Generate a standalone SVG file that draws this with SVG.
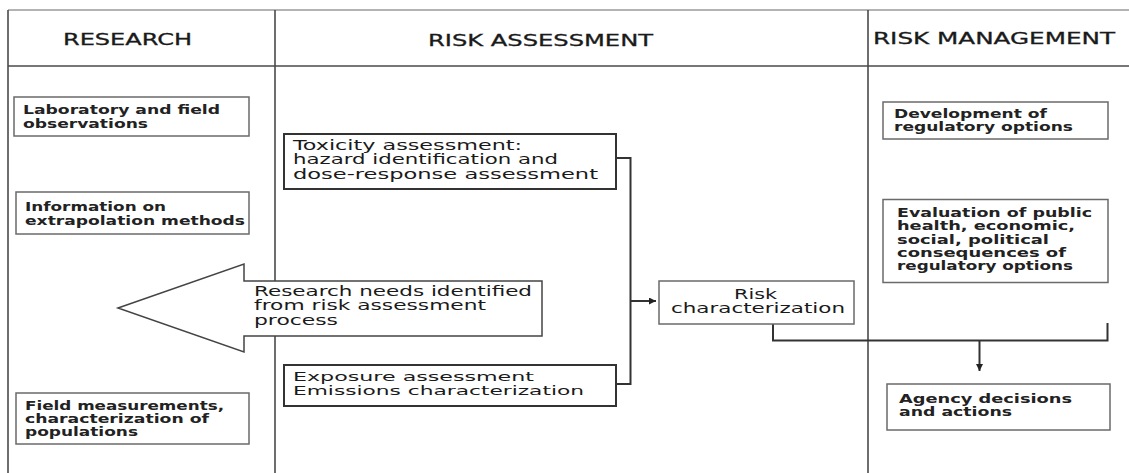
<svg xmlns="http://www.w3.org/2000/svg" width="1129" height="473" viewBox="0 0 1129 473">
<style>
.frame{stroke:#4a4a4a;stroke-width:1.6;fill:none}
.top{stroke:#9a9a9a;stroke-width:1.4;fill:none}
.box{fill:#fff;stroke:#6a6a6a;stroke-width:1.5}
.boxd{fill:#fff;stroke:#333;stroke-width:2}
.con{fill:none;stroke:#333;stroke-width:2}
.hd{font-family:"DejaVu Sans","Liberation Sans",sans-serif;font-size:16px;fill:#1a1a1a;stroke:#1a1a1a;stroke-width:0.3}
.tb{font-family:"DejaVu Sans","Liberation Sans",sans-serif;font-size:12px;font-weight:bold;fill:#222}
.tn{font-family:"DejaVu Sans","Liberation Sans",sans-serif;font-size:14px;fill:#1a1a1a}
.ts{font-family:"DejaVu Sans","Liberation Sans",sans-serif;font-size:13px;fill:#1a1a1a}
</style>
<defs>
<marker id="ah" viewBox="0 0 10 10" refX="10" refY="5" markerWidth="7" markerHeight="7" markerUnits="userSpaceOnUse" orient="auto">
<path d="M0,0 L10,5 L0,10 z" fill="#222"/>
</marker>
</defs>
<rect x="0" y="0" width="1129" height="473" fill="#fff"/>
<g id="frame">
<line class="top" x1="8" y1="10" x2="1129" y2="10"/>
<line class="frame" x1="8" y1="10" x2="8" y2="473"/>
<line class="frame" x1="8" y1="66" x2="1129" y2="66"/>
<line class="frame" x1="275" y1="10" x2="275" y2="473"/>
<line class="frame" x1="868" y1="10" x2="868" y2="473"/>
</g>
<g id="headers">
<text class="hd" x="63" y="45" textLength="129" lengthAdjust="spacingAndGlyphs">RESEARCH</text>
<text class="hd" x="428" y="46" textLength="225" lengthAdjust="spacingAndGlyphs">RISK ASSESSMENT</text>
<text class="hd" x="873" y="44" textLength="242" lengthAdjust="spacingAndGlyphs">RISK MANAGEMENT</text>
</g>
<g id="connectors">
<path class="con" d="M616,158 H630.5 V384 H616"/>
<line class="con" x1="630.5" y1="301" x2="656" y2="301" marker-end="url(#ah)"/>
<path class="con" d="M773,324 V340.5 H1107.5 V323"/>
<line class="con" x1="979.5" y1="340.5" x2="979.5" y2="371" marker-end="url(#ah)"/>
</g>
<g id="lab-field">
<rect class="box" x="14" y="97" width="235" height="39"/>
<text class="tb" x="23" y="113.5" textLength="197" lengthAdjust="spacingAndGlyphs">Laboratory and field</text>
<text class="tb" x="23" y="127.5" textLength="125" lengthAdjust="spacingAndGlyphs">observations</text>
</g>
<g id="extrapolation">
<rect class="box" x="16" y="192" width="233" height="42"/>
<text class="tb" x="25" y="211" textLength="141" lengthAdjust="spacingAndGlyphs">Information on</text>
<text class="tb" x="25" y="224.5" textLength="220" lengthAdjust="spacingAndGlyphs">extrapolation methods</text>
</g>
<g id="field-measurements">
<rect class="box" x="16" y="393" width="233" height="51"/>
<text class="tb" x="25" y="409.5" textLength="199" lengthAdjust="spacingAndGlyphs">Field measurements,</text>
<text class="tb" x="25" y="422.5" textLength="184" lengthAdjust="spacingAndGlyphs">characterization of</text>
<text class="tb" x="25" y="435.5" textLength="113" lengthAdjust="spacingAndGlyphs">populations</text>
</g>
<g id="toxicity">
<rect class="boxd" x="284" y="134" width="332" height="55"/>
<text class="tn" x="293" y="149.5" textLength="229" lengthAdjust="spacingAndGlyphs">Toxicity assessment:</text>
<text class="tn" x="293" y="164" textLength="265" lengthAdjust="spacingAndGlyphs">hazard identification and</text>
<text class="tn" x="293" y="178.5" textLength="305" lengthAdjust="spacingAndGlyphs">dose-response assessment</text>
</g>
<g id="research-needs">
<polygon points="118,308 244,264 244,281 542,281 542,336 244,336 244,352" fill="#fff" stroke="#444" stroke-width="1.5" stroke-linejoin="miter"/>
<text class="tn" x="254" y="296" textLength="278" lengthAdjust="spacingAndGlyphs">Research needs identified</text>
<text class="tn" x="254" y="310" textLength="232" lengthAdjust="spacingAndGlyphs">from risk assessment</text>
<text class="tn" x="254" y="324.5" textLength="84" lengthAdjust="spacingAndGlyphs">process</text>
</g>
<g id="risk-char">
<rect class="box" x="659" y="281" width="195" height="43"/>
<text class="tn" x="734" y="298.5" textLength="43" lengthAdjust="spacingAndGlyphs">Risk</text>
<text class="tn" x="671" y="312.5" textLength="174" lengthAdjust="spacingAndGlyphs">characterization</text>
</g>
<g id="exposure">
<rect class="boxd" x="284" y="365" width="332" height="41"/>
<text class="ts" x="293" y="381" textLength="241" lengthAdjust="spacingAndGlyphs">Exposure assessment</text>
<text class="ts" x="293" y="395" textLength="291" lengthAdjust="spacingAndGlyphs">Emissions characterization</text>
</g>
<g id="development">
<rect class="box" x="883" y="102" width="225" height="37"/>
<text class="tb" x="894" y="118" textLength="153" lengthAdjust="spacingAndGlyphs">Development of</text>
<text class="tb" x="894" y="131" textLength="179" lengthAdjust="spacingAndGlyphs">regulatory options</text>
</g>
<g id="evaluation">
<rect class="box" x="883" y="199.5" width="225" height="83"/>
<text class="tb" x="897" y="217" textLength="195" lengthAdjust="spacingAndGlyphs">Evaluation of public</text>
<text class="tb" x="897" y="230.3" textLength="178" lengthAdjust="spacingAndGlyphs">health, economic,</text>
<text class="tb" x="897" y="243.6" textLength="152" lengthAdjust="spacingAndGlyphs">social, political</text>
<text class="tb" x="897" y="256.9" textLength="169" lengthAdjust="spacingAndGlyphs">consequences of</text>
<text class="tb" x="897" y="270.2" textLength="176" lengthAdjust="spacingAndGlyphs">regulatory options</text>
</g>
<g id="agency">
<rect class="box" x="887" y="384" width="223" height="46"/>
<text class="tb" x="899" y="403" textLength="173" lengthAdjust="spacingAndGlyphs">Agency decisions</text>
<text class="tb" x="899" y="416" textLength="113" lengthAdjust="spacingAndGlyphs">and actions</text>
</g>
</svg>
